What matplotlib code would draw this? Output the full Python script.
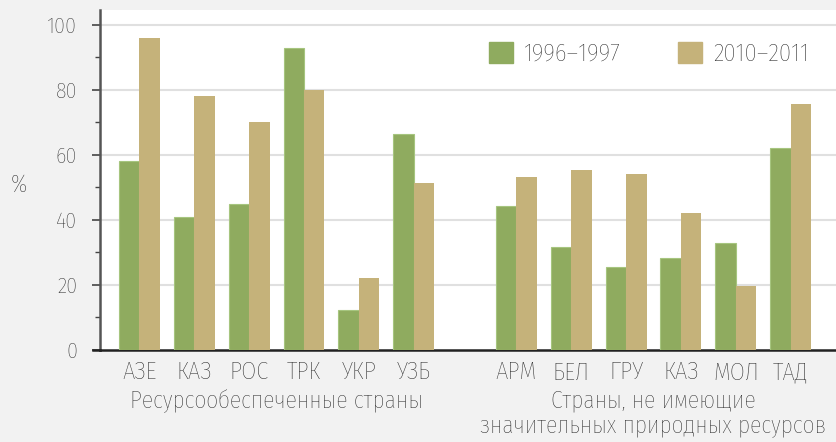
import matplotlib
matplotlib.use("Agg")
import matplotlib.pyplot as plt
import matplotlib.transforms as mtransforms
from matplotlib.patches import Patch
import numpy as np

# ---- data ----
group1_countries = ["АЗЕ", "КАЗ", "РОС", "ТРК", "УКР", "УЗБ"]
group1_1996 = [58, 41, 45, 93, 12.3, 66.4]
group1_2010 = [96, 78, 70, 80, 22, 51.4]

group2_countries = ["АРМ", "БЕЛ", "ГРУ", "КАЗ", "МОЛ", "ТАД"]
group2_1996 = [44.2, 31.7, 25.4, 28.3, 32.8, 62.2]
group2_2010 = [53.2, 55.4, 54.2, 42.2, 19.8, 75.7]

group_titles = ["Ресурсообеспеченные страны",
                "Страны, не имеющие\nзначительных природных ресурсов"]
series_labels = ["1996–1997", "2010–2011"]
y_ticks = [0, 20, 40, 60, 80, 100]
y_label = "%"

# ---- style ----
FONT = ["Fira Sans Condensed", "DejaVu Sans"]
plt.rcParams['font.family'] = FONT
plt.rcParams['font.weight'] = 'light'
GREEN = "#8fab5f"
GREEN_EDGE = "#a6c57f"
TAN = "#c5b27a"
BG = "#f2f2f2"
TXT = "#222222"

fig = plt.figure(figsize=(8.37, 4.42), dpi=100, facecolor=BG)
ax = fig.add_axes([100/837, 92/442, 737/837, 340/442])
ax.set_facecolor("white")

gap = 0.87
x1 = np.arange(len(group1_countries))
x2 = np.arange(len(group2_countries)) + len(group1_countries) + gap
xs = np.concatenate([x1, x2])
labels = group1_countries + group2_countries
v1996 = group1_1996 + group2_1996
v2010 = group1_2010 + group2_2010

w = 0.373
ax.bar(xs - w/2, v1996, width=w, color=GREEN, edgecolor=GREEN_EDGE, linewidth=0.8, zorder=3)
ax.bar(xs + w/2, v2010, width=w, color=TAN, edgecolor=TAN, linewidth=0.0, zorder=3)

ax.set_xlim(x1[0] - 0.718, x2[-1] + 0.845)
ax.set_ylim(0, 104.6)

ax.set_yticks(y_ticks)
ax.set_yticks([10, 30, 50, 70, 90], minor=True)
ax.tick_params(axis='y', which='major', length=5.5, width=1.2, color="#444444",
               labelsize=16, labelcolor=TXT, pad=11)
ax.tick_params(axis='y', which='minor', length=3.5, width=1.0, color="#444444")
ax.set_xticks(xs)
ax.set_xticklabels(labels)
ax.tick_params(axis='x', length=0, labelsize=17.5, labelcolor=TXT, pad=8)

for y in y_ticks[1:]:
    ax.axhline(y, color="#e0e0e0", lw=1.5, zorder=1)

for s in ["top", "right"]:
    ax.spines[s].set_visible(False)
ax.spines["left"].set_color("#555555")
ax.spines["left"].set_linewidth(1.8)
ax.spines["bottom"].set_color("#222222")
ax.spines["bottom"].set_linewidth(1.8)
ax.plot([-0.009, 0], [0, 0], transform=ax.transAxes, color="#222222", lw=1.8,
        clip_on=False, zorder=5)

# group titles
trans = mtransforms.blended_transform_factory(ax.transData, fig.transFigure)
ax.text(x1.mean(), (442-389)/442, group_titles[0], transform=trans, ha="center",
        va="top", fontsize=17, color=TXT, linespacing=1.12)
ax.text(x2.mean(), (442-389)/442, group_titles[1], transform=trans, ha="center",
        va="top", fontsize=17, color=TXT, linespacing=1.12)

fig.text(19/837, (442-185)/442, y_label, ha="center", va="center", fontsize=17, color=TXT)

handles = [Patch(facecolor=GREEN, edgecolor=GREEN), Patch(facecolor=TAN, edgecolor=TAN)]
leg = fig.legend(handles, series_labels, loc="center left",
                 bbox_to_anchor=(489/837, (442-53.5)/442), ncol=2, frameon=False,
                 fontsize=18, handlelength=0.95, handleheight=0.95,
                 handletextpad=0.45, columnspacing=2.3, borderpad=0, borderaxespad=0)
for t in leg.get_texts():
    t.set_color(TXT)

fig.savefig("out.png", dpi=100, facecolor=BG)
